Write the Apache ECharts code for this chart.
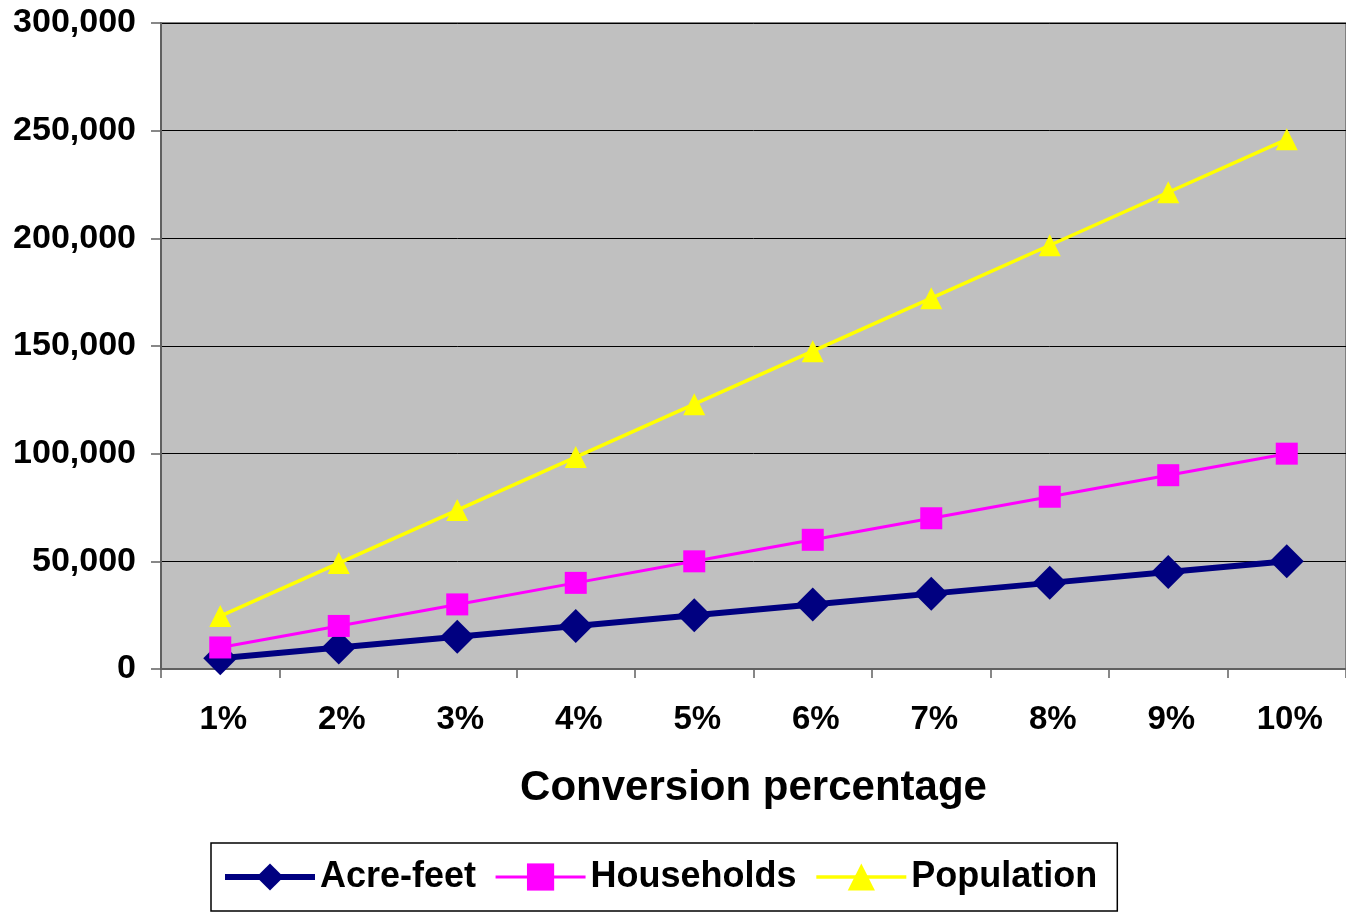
<!DOCTYPE html>
<html>
<head>
<meta charset="utf-8">
<script src="https://cdn.jsdelivr.net/npm/echarts@6/dist/echarts.min.js"></script>
<style>
  html, body { margin: 0; padding: 0; background: #ffffff; }
  #chart { width: 1346px; height: 913px; }
</style>
</head>
<body>
<div id="chart"></div>
<script>
// Conversion percentage categories
const categories = ['1%', '2%', '3%', '4%', '5%', '6%', '7%', '8%', '9%', '10%'];

// Series values
const acreFeet = [5000, 10000, 15000, 20000, 25000, 30000, 35000, 40000, 45000, 50000];
const households = [10000, 20000, 30000, 40000, 50000, 60000, 70000, 80000, 90000, 100000];
const population = [24600, 49200, 73800, 98400, 123000, 147600, 172200, 196800, 221400, 246000];

// Value axis ticks
const yMin = 0;
const yMax = 300000;
const yStep = 50000;

const FONT = '"Liberation Sans", Arial, sans-serif';

const chart = echarts.init(document.getElementById('chart'), null, { renderer: 'canvas' });

chart.setOption({
  backgroundColor: '#ffffff',
  animation: false,
  grid: {
    left: 161,
    top: 23,
    right: 0,
    bottom: 244,
    show: true,
    backgroundColor: '#c0c0c0',
    borderColor: '#808080',
    borderWidth: 2
  },
  legend: {
    left: 211,
    top: 843,
    padding: [16, 20, 16, 11],
    itemGap: 18,
    itemWidth: 90,
    itemHeight: 34,
    borderColor: '#000000',
    borderWidth: 1.5,
    borderRadius: 0,
    textStyle: { fontFamily: FONT, fontWeight: 'bold', fontSize: 36, color: '#000000' },
    data: [
      { name: 'Acre-feet', lineStyle: { width: 6 } },
      { name: 'Households', lineStyle: { width: 3 } },
      { name: 'Population', lineStyle: { width: 3.5 } }
    ]
  },
  xAxis: {
    type: 'category',
    data: categories,
    boundaryGap: true,
    name: 'Conversion percentage',
    nameLocation: 'middle',
    nameGap: 98,
    nameTextStyle: { fontFamily: FONT, fontWeight: 'bold', fontSize: 42, color: '#000000' },
    axisLine: { show: true, lineStyle: { color: '#606060', width: 2 } },
    axisTick: { show: true, inside: false, length: 9, alignWithLabel: false, lineStyle: { color: '#606060', width: 1.5 } },
    axisLabel: { margin: 34, padding: [0, 0, 0, 6], fontFamily: FONT, fontWeight: 'bold', fontSize: 33, color: '#000000' },
    splitLine: { show: false }
  },
  yAxis: {
    type: 'value',
    min: yMin,
    max: yMax,
    interval: yStep,
    axisLine: { show: true, lineStyle: { color: '#606060', width: 2 } },
    axisTick: { show: true, inside: false, length: 10, lineStyle: { color: '#606060', width: 1.5 } },
    axisLabel: {
      margin: 25,
      fontFamily: FONT,
      fontWeight: 'bold',
      fontSize: 34,
      color: '#000000',
      formatter: v => v.toLocaleString('en-US')
    },
    splitLine: { show: true, lineStyle: { color: '#000000', width: 1 } }
  },
  series: [
    {
      name: 'Acre-feet',
      type: 'line',
      data: acreFeet,
      symbol: 'diamond',
      symbolSize: 34,
      showAllSymbol: true,
      itemStyle: { color: '#000080' },
      lineStyle: { color: '#000080', width: 6 },
      z: 3
    },
    {
      name: 'Households',
      type: 'line',
      data: households,
      symbol: 'rect',
      symbolSize: 22,
      showAllSymbol: true,
      itemStyle: { color: '#ff00ff' },
      lineStyle: { color: '#ff00ff', width: 3 },
      z: 4
    },
    {
      name: 'Population',
      type: 'line',
      data: population,
      symbol: 'triangle',
      symbolSize: 22,
      showAllSymbol: true,
      itemStyle: { color: '#ffff00' },
      lineStyle: { color: '#ffff00', width: 3.5 },
      z: 5
    }
  ]
});
</script>
</body>
</html>
